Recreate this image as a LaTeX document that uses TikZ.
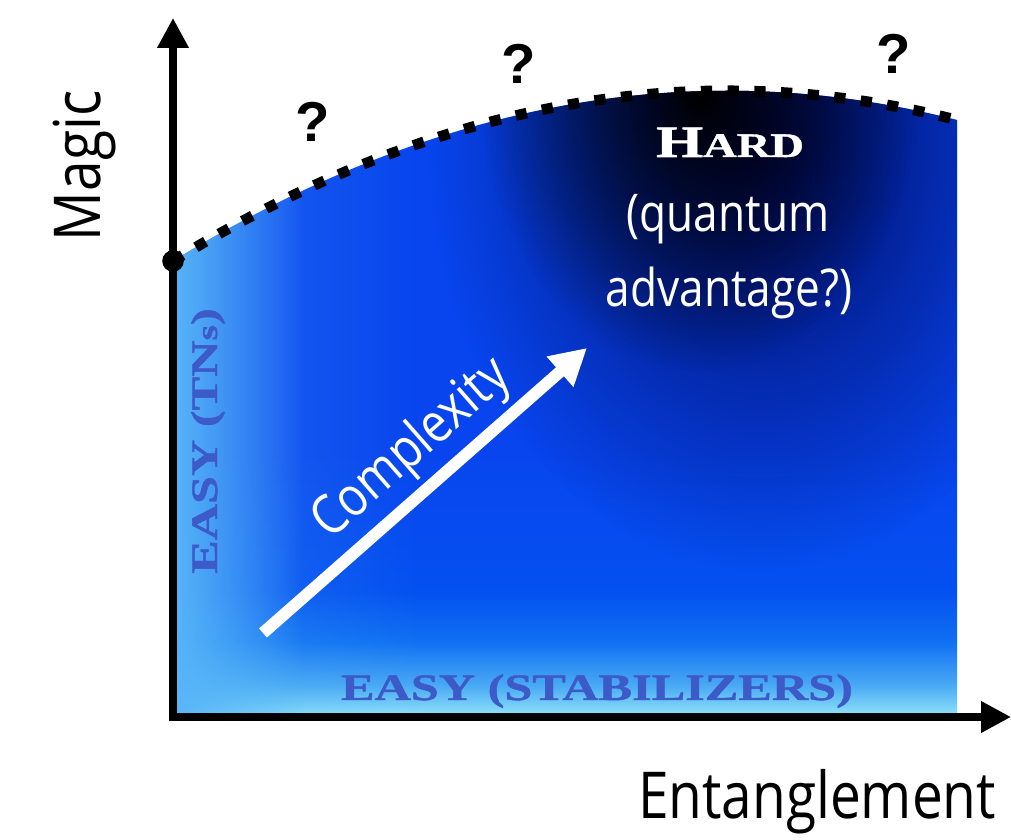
\documentclass[tikz,border=0pt]{standalone}
\usepackage{fontspec}
\usetikzlibrary{arrows.meta,fadings}
\newfontfamily\slimfont{Open Sans}[FakeStretch=0.85]
\newfontfamily\plateface{Liberation Serif Bold}[FakeStretch=1.35,FakeBold=1.2]
\newfontfamily\markfont{Liberation Sans}
\definecolor{skyfoot}{HTML}{92E6F8}
\definecolor{skylow}{HTML}{4AAAF4}
\definecolor{skymid}{HTML}{1070F2}
\definecolor{royal}{HTML}{0550F0}
\definecolor{royaltop}{HTML}{0845EE}
\definecolor{stripblue}{HTML}{58B6F8}
\definecolor{deepnavy}{HTML}{000A60}
\definecolor{easyblue}{HTML}{3C5AC8}
\pgfdeclareverticalshading{magicsky}{100bp}{color(0bp)=(skyfoot); color(25bp)=(skyfoot);
  color(27.5bp)=(skylow); color(31bp)=(skymid); color(35bp)=(royal);
  color(46bp)=(royaltop); color(100bp)=(royaltop)}
\tikzfading[name=fade east, left color=transparent!0, right color=transparent!100]
\tikzfading[name=fade spot, inner color=transparent!0, outer color=transparent!100]
\begin{document}
\begin{tikzpicture}[
  axis/.style={line width=5pt,{Triangle[length=0.75cm,width=0.75cm]}-{Triangle[length=0.75cm,width=0.75cm]}},
  rim/.style={line width=7.5pt,dash pattern=on 8pt off 11pt},
  growth/.style={white,line width=8.5pt,-{Triangle[length=0.9cm,width=0.95cm]}},
  qmark/.style={font=\markfont\bfseries\fontsize{40}{40}\selectfont,inner sep=0},
  axislabel/.style={anchor=base,inner sep=0,font=\slimfont\fontsize{46}{50}\selectfont},
  hardtext/.style={anchor=base,inner sep=0,text=white,font=\slimfont\fontsize{37}{40}\selectfont},
  easy/.style={anchor=base,inner sep=0,text=easyblue,font=\plateface\fontsize{26.5}{27}\selectfont}]
\useasboundingbox (0,0) rectangle (25.275,20.975);
\coordinate (o) at (4.325,3.05);
\coordinate (ytop) at (4.325,20.525);
\coordinate (xend) at (25.275,3.05);
\coordinate (wallL) at (4.325,14.45);
\coordinate (wallR) at (23.925,17.975);
\coordinate (floorR) at (23.925,3.05);

% shaded region under the curve
\begin{scope}
\clip (o) -- (wallL) .. controls (10.86,18.46) and (17.39,19.64) .. (wallR) -- (floorR) -- cycle;
\shade[shading=magicsky] (4.3,3.05) rectangle (23.95,18.75);
\fill[stripblue,path fading=fade east] (4.3,3.05) rectangle (7.6,18.75);
\fill[stripblue,opacity=0.3,path fading=fade east] (4.3,3.05) rectangle (10.5,18.75);
\fill[deepnavy,path fading=fade spot] (19,17.225) ellipse (8.25 and 10.5);
\fill[black,path fading=fade spot] (17.5,18.7) ellipse (5.5 and 7);
\end{scope}

\draw[rim] (wallL) .. controls (10.86,18.46) and (17.39,19.64) .. (wallR);
\draw[axis] (ytop) |- (xend);
\fill (wallL) circle (0.27);

\node[qmark] (q1) at (7.825,17.925) {?};
\node[qmark] (q2) at (12.975,19.375) {?};
\node[qmark] (q3) at (22.35,19.625) {?};

\node[anchor=base,inner sep=0,text=white,font=\plateface] (hard) at (18.25,17.05)
  {\fontsize{32}{32}\selectfont H\fontsize{24.5}{25}\selectfont ARD};
\node[hardtext] (quant) at (18.2,15.175) {(quantum};
\node[hardtext] (advan) at (18.225,13.3) {advantage?)};

\node[axislabel] (xlab) at (20.425,0.525) {Entanglement};
\node[axislabel,rotate=90] (ylab) at (2.5,16.825) {Magic};

\node[easy,rotate=90] (tns) at (5.425,9.95) {EASY (TN{\fontsize{21}{21}\selectfont s})};
\node[easy] (stab) at (14.925,3.475) {EASY (STABILIZERS)};

\coordinate (cbase) at (6.575,5.15);
\coordinate (ctip) at (14.675,12.275);
\draw[growth] (cbase) -- node[pos=0.54,sloped,above=4pt,inner sep=0,text=white,
  font=\slimfont\fontsize{39}{40}\selectfont] (cplx) {Complexity} (ctip);
\end{tikzpicture}
\end{document}
